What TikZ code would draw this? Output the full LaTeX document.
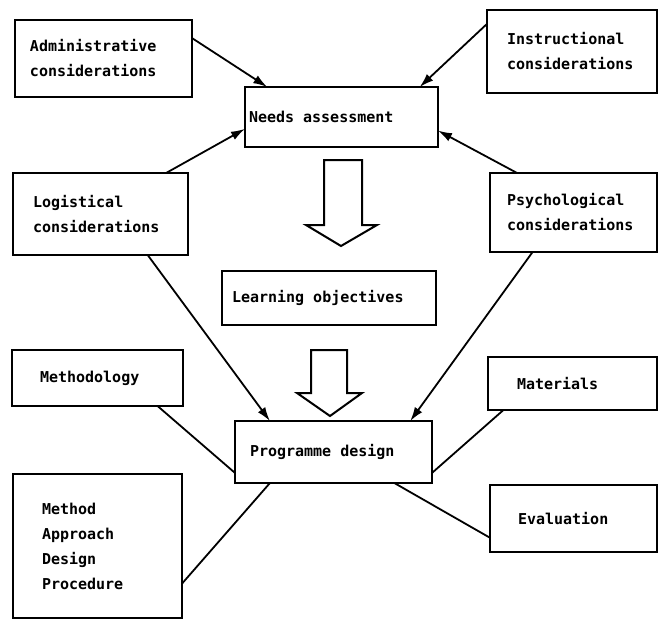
\documentclass[tikz,border=0pt]{standalone}
\usepackage{fontspec}
\setmonofont{DejaVu Sans Mono}
\usetikzlibrary{arrows.meta}

\newcommand\boxfont{\ttfamily\bfseries\fontsize{15}{25}\selectfont\spaceskip=9pt\relax}

\tikzset{
  box/.style={draw, line width=2pt, anchor=north west, align=flush left,
    outer sep=0pt, inner ysep=0pt, font=\boxfont},
  feed/.style={line width=1.8pt, -{Latex[length=14pt,width=9pt]}},
  link/.style={line width=1.8pt},
  bigarrow/.style={draw, line width=2pt, line join=miter}
}

\begin{document}
\begin{tikzpicture}[x=1pt,y=-1pt]
    \useasboundingbox (0,0) rectangle (659,619);
    \node[box, minimum width=177pt, minimum height=77pt, text width=147pt, inner xsep=15pt] (admin) at (15,20) {Administrative\\considerations};
    \node[box, minimum width=193pt, minimum height=60pt, text width=185pt, inner xsep=4pt] (needs) at (245,87) {Needs assessment};
    \node[box, minimum width=170pt, minimum height=83pt, text width=130pt, inner xsep=20pt] (instr) at (487,10) {Instructional\\considerations};
    \node[box, minimum width=175pt, minimum height=82pt, text width=135pt, inner xsep=20pt] (logist) at (13,173) {Logistical\\considerations};
    \node[box, minimum width=167pt, minimum height=79pt, text width=133pt, inner xsep=17pt] (psych) at (490,173) {Psychological\\considerations};
    \node[box, minimum width=214pt, minimum height=54pt, text width=194pt, inner xsep=10pt] (learn) at (222,271) {Learning objectives};
    \node[box, minimum width=171pt, minimum height=56pt, text width=115pt, inner xsep=28pt] (method) at (12,350) {Methodology};
    \node[box, minimum width=197pt, minimum height=62pt, text width=167pt, inner xsep=15pt] (prog) at (235,421) {Programme design};
    \node[box, minimum width=169pt, minimum height=144pt, text width=111pt, inner xsep=29pt] (mapd) at (13,474) {Method\\Approach\\Design\\Procedure};
    \node[box, minimum width=169pt, minimum height=53pt, text width=111pt, inner xsep=29pt] (mater) at (488,357) {Materials};
    \node[box, minimum width=167pt, minimum height=67pt, text width=111pt, inner xsep=28pt] (evalu) at (490,485) {Evaluation};

    \draw[feed] (admin.13.7) -- (needs.158.6);
    \draw[feed] (logist.32.4) -- (needs.187.7);
    \draw[feed] (instr.162.7) -- (needs.21.4);
    \draw[feed] (psych.145) -- (needs.352.3);
    \draw[feed] (logist.319.2) -- (prog.154.7);
    \draw[feed] (psych.224.3) -- (prog.22.1);

    \draw[link] (method.335.9) -- (prog.192.6);
    \draw[link] (mapd.336.4) -- (prog.206);
    \draw[link] (mater.201.4) -- (prog.348.5);
    \draw[link] (evalu.193.1) -- (prog.333.3);

    \draw[bigarrow] (324,160) -- (362,160) -- (362,225) -- (377,225) -- (341,246)
        -- (306,225) -- (324,225) -- cycle;
    \draw[bigarrow] (311,350) -- (347,350) -- (347,393) -- (362,393) -- (330,416)
        -- (297,393) -- (311,393) -- cycle;
\end{tikzpicture}
\end{document}
